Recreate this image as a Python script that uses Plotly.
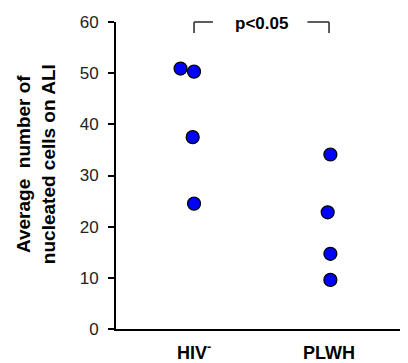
import plotly.graph_objects as go

categories = ["HIV<sup>-</sup>", "PLWH"]
hiv_neg_values = [50.9, 50.3, 37.5, 24.5]
hiv_neg_jitter = [-0.10, 0.0, -0.01, 0.0]
plwh_values = [34.1, 22.8, 14.7, 9.6]
plwh_jitter = [0.01, -0.01, 0.01, 0.01]
y_ticks = [0, 10, 20, 30, 40, 50, 60]
p_label = "p<0.05"

FONT = "Liberation Sans, Arial, sans-serif"

fig = go.Figure()
for pos, vals, jit in [(1, hiv_neg_values, hiv_neg_jitter), (2, plwh_values, plwh_jitter)]:
    fig.add_trace(go.Scatter(
        x=[pos + j for j in jit], y=vals, mode="markers",
        marker=dict(size=13, color="#0000FF", line=dict(color="black", width=1.2)),
        cliponaxis=False, showlegend=False,
    ))

# significance bracket
bc = "#333333"
bw = 1.6
y_top = 1.0
y_leg = 0.964
fig.add_shape(type="line", xref="x", yref="paper", x0=1, x1=1, y0=y_leg, y1=y_top, line=dict(color=bc, width=bw))
fig.add_shape(type="line", xref="x", yref="paper", x0=1, x1=1.14, y0=y_top, y1=y_top, line=dict(color=bc, width=bw))
fig.add_shape(type="line", xref="x", yref="paper", x0=1.84, x1=2, y0=y_top, y1=y_top, line=dict(color=bc, width=bw))
fig.add_shape(type="line", xref="x", yref="paper", x0=2, x1=2, y0=y_leg, y1=y_top, line=dict(color=bc, width=bw))
fig.add_annotation(x=1.5, y=0.995, xref="x", yref="paper", text="<b>" + p_label + "</b>",
                   showarrow=False, font=dict(family=FONT, size=17, color="black"), yanchor="middle")

fig.add_annotation(x=-0.274, y=0.537, xref="paper", yref="paper", xanchor="center", yanchor="middle",
                   text="<b>Average  number of<br>nucleated cells on ALI</b>",
                   textangle=-90, showarrow=False, font=dict(family=FONT, size=19, color="black"))

fig.update_layout(
    width=400, height=355,
    margin=dict(l=108, r=0, t=14, b=32),
    plot_bgcolor="white", paper_bgcolor="white",
    font=dict(family=FONT, color="#222222"),
    xaxis=dict(range=[0.422, 2.585], tickvals=[1, 2], ticktext=["<b>" + c + "</b>" for c in categories],
               showline=True, linecolor="black", linewidth=2, showgrid=False, zeroline=False,
               ticks="outside", ticklen=6, tickcolor="rgba(0,0,0,0)",
               tickfont=dict(family=FONT, size=18, color="black")),
    yaxis=dict(range=[0, 60], tickvals=y_ticks, showline=True, linecolor="black", linewidth=2,
               showgrid=False, zeroline=False, ticks="outside", ticklen=6, tickwidth=2, tickcolor="black",
               ticklabelstandoff=6,
               tickfont=dict(family=FONT, size=17, color="#222222")),
)

fig.write_html("out.html")
